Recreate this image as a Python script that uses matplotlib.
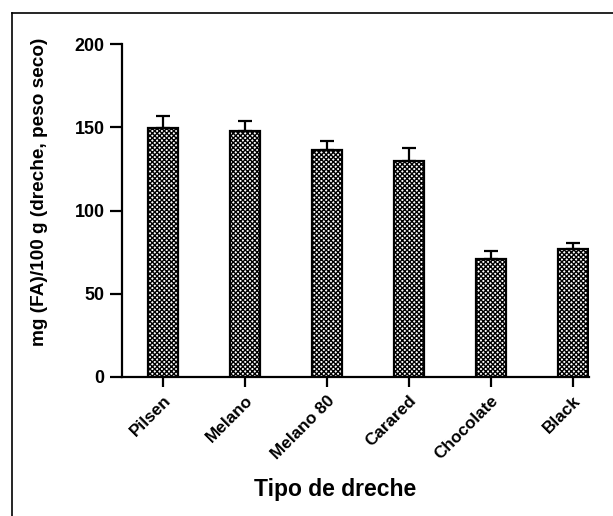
import numpy as np
import matplotlib
matplotlib.use("Agg")
import matplotlib.pyplot as plt
from matplotlib.lines import Line2D

categories = ["Pilsen", "Melano", "Melano 80", "Carared", "Chocolate", "Black"]
values = [149.5, 147.5, 136.5, 129.5, 71, 77]
errors = [7, 6, 5, 8, 4.5, 3.5]

plt.rcParams['font.family'] = ['Liberation Sans', 'DejaVu Sans']
plt.rcParams['font.weight'] = 'bold'
plt.rcParams['hatch.linewidth'] = 1.0

fig = plt.figure(figsize=(6.13, 5.16), dpi=100)
ax = fig.add_axes([0.199, 0.2694, 0.762, 0.6453])

x = np.arange(len(categories))
ax.bar(x, values, 0.37, color='white', edgecolor='black', linewidth=1.6,
       hatch='xxxxxxx', zorder=2)
ax.errorbar(x, values, yerr=[np.zeros(len(errors)), errors], fmt='none',
            ecolor='black', elinewidth=1.6, capsize=4.7, capthick=1.6, zorder=3)

ax.set_xlim(-0.5, 5.2)
ax.set_ylim(0, 200)
ax.set_yticks([0, 50, 100, 150, 200])
ax.set_xticks(x)
ax.set_xticklabels(categories, rotation=45, ha='right', rotation_mode='anchor',
                   fontsize=12.3, fontweight='bold')
for lab in ax.get_yticklabels():
    lab.set_fontsize(12.9)
    lab.set_fontweight('bold')

ax.spines['top'].set_visible(False)
ax.spines['right'].set_visible(False)
ax.spines['left'].set_linewidth(1.6)
ax.spines['bottom'].set_linewidth(1.6)
ax.tick_params(axis='y', direction='out', length=8.5, width=1.6, pad=4)
ax.tick_params(axis='x', direction='out', length=7.5, width=1.6, pad=4)

ax.set_ylabel('mg (FA)/100 g (dreche, peso seco)', fontsize=13.7, fontweight='bold')
ax.yaxis.set_label_coords(-0.158, 0.557)
fig.text(0.546, 1 - 496 / 516, 'Tipo de dreche', ha='center', va='baseline',
         fontsize=16.5, fontweight='bold')

# outer frame (only top and left edges visible)
fig.add_artist(Line2D([12 / 613, 12 / 613], [0, 1 - 13 / 516], color='black', lw=1.2,
                      transform=fig.transFigure))
fig.add_artist(Line2D([12 / 613, 1], [1 - 13 / 516, 1 - 13 / 516], color='black', lw=1.2,
                      transform=fig.transFigure))

fig.savefig('out.png', dpi=100)
